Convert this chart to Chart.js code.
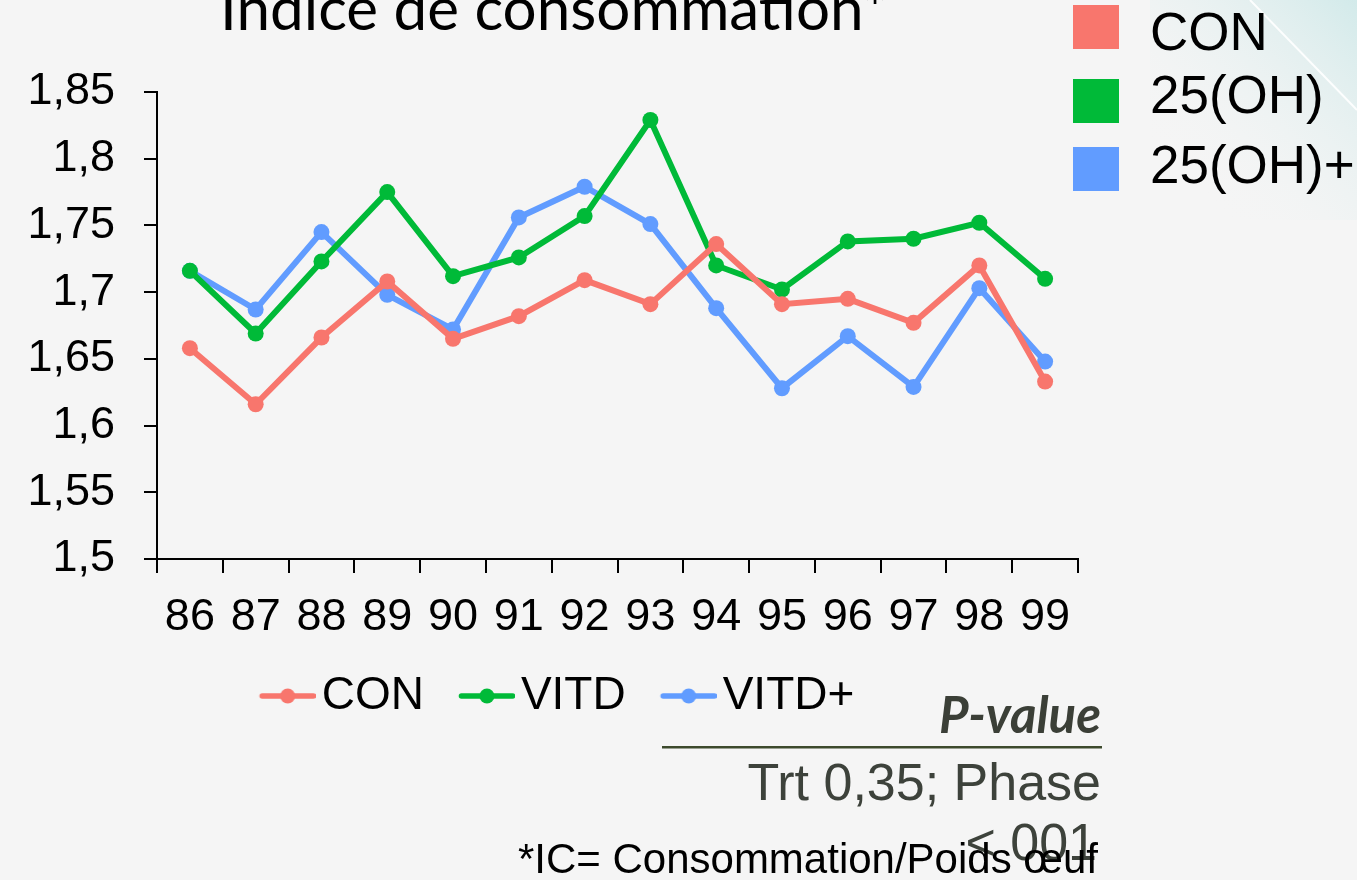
<!DOCTYPE html>
<html>
<head>
<meta charset="utf-8">
<script src="https://cdn.jsdelivr.net/npm/chart.js@4.4.1/dist/chart.umd.min.js"></script>
<style>
  html, body { margin: 0; padding: 0; background: #f5f5f5; }
  #wrap { position: relative; width: 1357px; height: 880px; overflow: hidden; }
</style>
</head>
<body>
<div id="wrap"><canvas id="myChart" width="1357" height="880"></canvas></div>
<script>
// semaines (ages)
const labels = ['86', '87', '88', '89', '90', '91', '92', '93', '94', '95', '96', '97', '98', '99'];
const con = [1.658, 1.616, 1.666, 1.708, 1.665, 1.682, 1.709, 1.691, 1.736, 1.691, 1.695, 1.677, 1.720, 1.633];
const vitd = [1.716, 1.669, 1.723, 1.775, 1.712, 1.726, 1.757, 1.829, 1.720, 1.702, 1.738, 1.740, 1.752, 1.710];
const vitdPlus = [1.716, 1.687, 1.745, 1.698, 1.672, 1.756, 1.779, 1.751, 1.688, 1.628, 1.667, 1.629, 1.703, 1.648];
const seriesNames = ['CON', 'VITD', 'VITD+'];
const boxNames = ['CON', '25(OH)', '25(OH)+'];
const colors = ['#F8766D', '#00BA38', '#619CFF'];

const FONT = '"Liberation Sans", Arial, sans-serif';

// small line + dot picture used as legend symbol
function legendSymbol(color) {
    const c = document.createElement('canvas');
    c.width = 98;
    c.height = 18;
    const g = c.getContext('2d');
    g.strokeStyle = color;
    g.fillStyle = color;
    g.lineWidth = 5.5;
    g.lineCap = 'round';
    g.beginPath();
    g.moveTo(44.5, 9);
    g.lineTo(95.5, 9);
    g.stroke();
    g.beginPath();
    g.arc(70, 9, 7.5, 0, Math.PI * 2);
    g.fill();
    return c;
}

const extras = {
    id: 'extras',
    afterLayout(chart) {
        // nudge the bottom legend a little to the left
        chart.legend.left -= 8;
        chart.legend.right -= 8;
    },
    beforeDraw(chart) {
        const ctx = chart.ctx;
        ctx.save();
        ctx.fillStyle = '#f5f5f5';
        ctx.fillRect(0, 0, chart.width, chart.height);
        // slide decoration, top right corner
        const grad = ctx.createLinearGradient(1357, 0, 1180, 180);
        grad.addColorStop(0, '#d2eaea');
        grad.addColorStop(1, 'rgba(245,245,245,0)');
        ctx.fillStyle = grad;
        ctx.fillRect(1150, 0, 207, 220);
        ctx.strokeStyle = 'rgba(255,255,255,0.9)';
        ctx.lineWidth = 2;
        ctx.beginPath();
        ctx.moveTo(1250, 0);
        ctx.lineTo(1357, 110);
        ctx.stroke();
        ctx.restore();
    },
    afterDraw(chart) {
        const ctx = chart.ctx;
        ctx.save();
        // title (cut at top like the slide)
        let size = 64;
        ctx.font = size + 'px Lato, "Open Sans", sans-serif';
        size = size * 668 / ctx.measureText('Indice de consommation*').width;
        ctx.font = size + 'px Lato, "Open Sans", sans-serif';
        ctx.fillStyle = '#000';
        ctx.textAlign = 'center';
        ctx.textBaseline = 'alphabetic';
        ctx.fillText('Indice de consommation*', 554, 30);

        // colour boxes top right
        const boxTops = [5, 79, 147];
        const baseLines = [50, 113, 183];
        ctx.font = '53px ' + FONT;
        ctx.textAlign = 'left';
        boxNames.forEach(function (name, i) {
            ctx.fillStyle = colors[i];
            ctx.fillRect(1073, boxTops[i], 46, 44);
            ctx.fillStyle = '#000';
            ctx.fillText(name, 1150, baseLines[i]);
        });

        // p-value block
        ctx.textAlign = 'right';
        let ps = 44;
        ctx.font = 'bold italic ' + ps + 'px Lato, "Open Sans", sans-serif';
        ps = ps * 162 / ctx.measureText('P-value').width;
        ctx.font = 'bold italic ' + ps + 'px Lato, "Open Sans", sans-serif';
        ctx.fillStyle = '#3b3f37';
        ctx.fillText('P-value', 1101, 733);
        ctx.fillStyle = '#3d4a2d';
        ctx.fillRect(662, 746, 440, 2.5);
        ctx.font = '52px ' + FONT;
        ctx.fillStyle = '#3d423b';
        ctx.fillText('Trt 0,35; Phase', 1101, 800);
        ctx.fillText('< 001', 1097, 860);

        // footnote
        ctx.font = '42px ' + FONT;
        ctx.fillStyle = '#000';
        ctx.fillText('*IC= Consommation/Poids œuf', 1098, 873);
        ctx.restore();
    }
};

const ctx = document.getElementById('myChart').getContext('2d');
const data = [con, vitd, vitdPlus];
const chart = new Chart(ctx, {
    type: 'line',
    data: {
        labels: labels,
        datasets: seriesNames.map(function (name, i) {
            return {
                label: name,
                data: data[i],
                borderColor: colors[i],
                backgroundColor: colors[i],
                borderWidth: 6,
                pointRadius: 8,
                pointBorderWidth: 0,
                pointBackgroundColor: colors[i],
                tension: 0
            };
        })
    },
    options: {
        responsive: false,
        animation: false,
        layout: {
            padding: { left: 27, right: 279, top: 92, bottom: 151 }
        },
        scales: {
            x: {
                offset: true,
                grid: {
                    offset: true,
                    drawOnChartArea: false,
                    drawTicks: true,
                    tickLength: 14,
                    color: '#000',
                    lineWidth: 2
                },
                border: { display: true, color: '#000', width: 2 },
                ticks: {
                    color: '#000',
                    padding: 35,
                    maxRotation: 0,
                    autoSkip: false,
                    font: { family: FONT, size: 45, lineHeight: 0.444 }
                }
            },
            y: {
                min: 1.5,
                max: 1.85,
                afterFit: function (scale) {
                    scale.width = 130;
                },
                grid: {
                    drawOnChartArea: false,
                    drawTicks: true,
                    tickLength: 13,
                    color: '#000',
                    lineWidth: 2
                },
                border: { display: true, color: '#000', width: 2 },
                ticks: {
                    stepSize: 0.05,
                    color: '#000',
                    padding: 29,
                    font: { family: FONT, size: 45 },
                    callback: function (value) {
                        return String(Math.round(value * 100) / 100).replace('.', ',');
                    }
                }
            }
        },
        plugins: {
            legend: {
                position: 'bottom',
                labels: {
                    color: '#000',
                    usePointStyle: true,
                    pointStyleWidth: 64,
                    padding: 10,
                    font: { family: FONT, size: 46 },
                    generateLabels: function (chart) {
                        const items = Chart.defaults.plugins.legend.labels.generateLabels(chart);
                        items.forEach(function (item, i) {
                            item.pointStyle = legendSymbol(colors[i]);
                        });
                        return items;
                    }
                }
            },
            title: { display: false },
            tooltip: { enabled: false }
        }
    },
    plugins: [extras]
});
</script>
</body>
</html>
